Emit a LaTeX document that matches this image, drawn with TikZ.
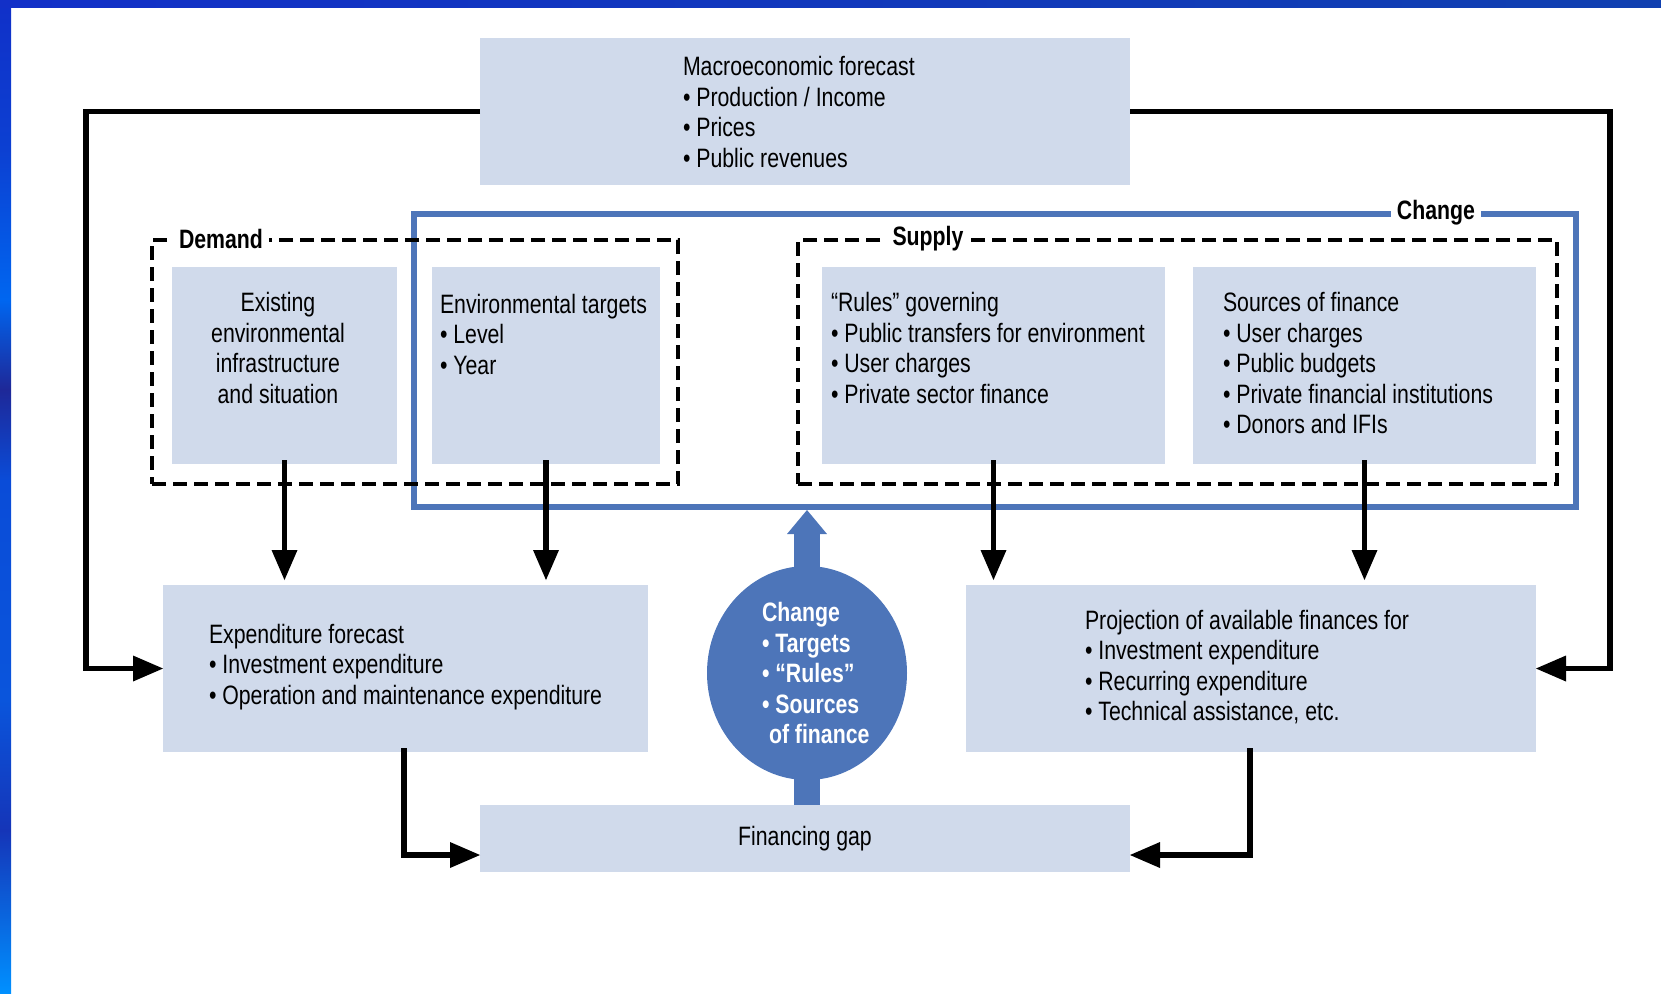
\documentclass[tikz,border=0pt]{standalone}
\usepackage{fontspec}
\setmainfont{Liberation Sans}[FakeStretch=0.8]
\usetikzlibrary{arrows.meta,shapes.geometric,calc}
\definecolor{boxc}{HTML}{D0DAEB}
\definecolor{blueC}{HTML}{4D75B9}
\definecolor{lb0}{HTML}{1030C8}
\definecolor{lb1}{HTML}{0C40D2}
\definecolor{lb2}{HTML}{0066F0}
\definecolor{lb3}{HTML}{1E2898}
\definecolor{lb4}{HTML}{0A4CD8}
\definecolor{lb5}{HTML}{0A55DC}
\definecolor{lb6}{HTML}{1535B8}
\definecolor{lb7}{HTML}{0090FF}
\definecolor{tb0}{HTML}{1230C8}
\definecolor{tb1}{HTML}{0048D8}
\definecolor{tb2}{HTML}{1040B0}
\pgfdeclareverticalshading{leftbar}{100bp}{color(0bp)=(lb7); color(25bp)=(lb7); color(33.2bp)=(lb6); color(39.75bp)=(lb5); color(50.8bp)=(lb4); color(55.4bp)=(lb3); color(59.9bp)=(lb2); color(67.45bp)=(lb1); color(75bp)=(lb0); color(100bp)=(lb0)}
\newcommand\dfont{\fontsize{13.3pt}{15.25pt}\selectfont}
\begin{document}
\begin{tikzpicture}[x=0.5pt,y=-0.5pt,
  box/.style={fill=boxc, draw=none, inner sep=0pt, outer sep=0pt, anchor=north west},
  txt/.style={inner sep=0pt, outer sep=0pt, align=left, anchor=west, font=\dfont},
  dashbox/.style={draw=black, line width=1.6pt, dash pattern=on 7pt off 3.5pt, inner sep=0pt, outer sep=0pt, anchor=north west},
  changebox/.style={draw=blueC, line width=2.6pt, inner sep=0pt, outer sep=0pt, anchor=north west},
  lbl/.style={fill=white, inner xsep=3pt, inner ysep=1pt, outer sep=0pt, font=\dfont\bfseries},
  arr/.style={line width=2.75pt, -{Triangle[length=15pt,width=13pt,line width=0pt]}},
  bluearr/.style={draw=blueC, line width=13pt, -{Triangle[length=12pt,width=20pt,line width=0pt]}},
  bluestem/.style={draw=blueC, line width=13pt}
]
\useasboundingbox (0,0) rectangle (1661,993);
% background frame
\shade[shading=leftbar] (0,0) rectangle (11,993);
\shade[left color=tb0, middle color=tb1, right color=tb2] (0,0) rectangle (1661,7);

% boxes
\node[box, minimum width=325pt, minimum height=73.5pt] (macro) at (480,38) {};
\node[box, minimum width=112.5pt, minimum height=98.5pt] (exist) at (172,267) {};
\node[box, minimum width=114pt, minimum height=98.5pt] (envt) at (432,267) {};
\node[box, minimum width=171.5pt, minimum height=98.5pt] (rules) at (822,267) {};
\node[box, minimum width=171.5pt, minimum height=98.5pt] (sources) at (1193,267) {};
\node[box, minimum width=242.5pt, minimum height=83.5pt] (expend) at (163,585) {};
\node[box, minimum width=285pt, minimum height=83.5pt] (proj) at (966,585) {};
\node[box, minimum width=325pt, minimum height=33.5pt] (gap) at (480,805) {};

% groups
\node[changebox, minimum width=581pt, minimum height=146.5pt] (chg) at (414,214) {};
\node[dashbox, minimum width=263pt, minimum height=122pt] (demand) at (152,240) {};
\node[dashbox, minimum width=379.5pt, minimum height=122pt] (supply) at (798,240) {};
\node[lbl] (demandlbl) at (221,239) {Demand};
\node[lbl] (supplylbl) at (928,239) {Supply};
\node[lbl] (chglbl) at (1436,213) {Change};

% texts
\node[txt] (macrot) at (683,112) {Macroeconomic forecast\\• Production / Income\\• Prices\\• Public revenues};
\node[txt, align=center, anchor=center] (existt) at (278,348) {Existing\\environmental\\infrastructure\\and situation};
\node[txt] (envtt) at (440,334) {Environmental targets\\• Level\\• Year};
\node[txt] (rulest) at (831,348) {“Rules” governing\\• Public transfers for environment\\• User charges\\• Private sector finance};
\node[txt] (sourcest) at (1223,363) {Sources of finance\\• User charges\\• Public budgets\\• Private financial institutions\\• Donors and IFIs};
\node[txt] (expendt) at (209,667) {Expenditure forecast\\• Investment expenditure\\• Operation and maintenance expenditure};
\node[txt] (projt) at (1085,667) {Projection of available finances for\\• Investment expenditure\\• Recurring expenditure\\• Technical assistance, etc.};
\node[txt, anchor=center] (gapt) at (805,839) {Financing gap};

% circle
\node[ellipse, fill=blueC, draw=none, inner sep=0pt, outer sep=0pt, minimum width=100pt, minimum height=107pt] (circ) at (807,673) {};
\node[txt, text=white, font=\dfont\bfseries] (circt) at (762,673) {Change\\• Targets\\• “Rules”\\• Sources\\\hspace{3.5pt}of finance};
\draw[bluearr] ([yshift=-3pt]circ.north) -- ($(circ.north |- chg.south)+(0,3)$);
\draw[bluestem] ([yshift=3pt]circ.south) -- (circ.south |- gap.north);

% arrows
\coordinate (lft) at (86,0);
\coordinate (rgt) at (1610,0);
\coordinate (c1) at (404,855);
\coordinate (c2) at (1250,855);
\draw[arr] (macro.west) -| (lft |- expend.west) -- (expend.west);
\draw[arr] (macro.east) -| (rgt |- proj.east) -- (proj.east);
\draw[arr, shorten >=2.5pt] ([yshift=2pt]exist.south) -- (exist.south |- expend.north);
\draw[arr, shorten >=2.5pt] ([yshift=2pt]envt.south) -- (envt.south |- expend.north);
\draw[arr, shorten >=2.5pt] ([yshift=2pt]rules.south) -- (rules.south |- proj.north);
\draw[arr, shorten >=2.5pt] ([yshift=2pt]sources.south) -- (sources.south |- proj.north);
\draw[arr] ([yshift=2pt]c1 |- expend.south) |- (gap.west |- c1);
\draw[arr] ([yshift=2pt]c2 |- proj.south) |- (gap.east |- c2);
\end{tikzpicture}
\end{document}
